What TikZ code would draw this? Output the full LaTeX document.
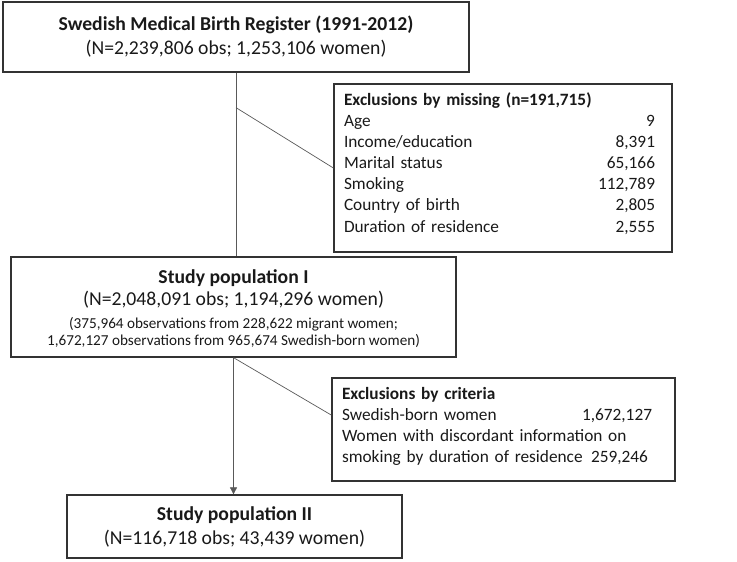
\documentclass[tikz,border=0pt]{standalone}
\usepackage{fontspec}
\setmainfont{Carlito}
\usepackage{xcolor}
\usetikzlibrary{arrows.meta, positioning}

\newcommand{\flowbig}{\fontsize{14}{17}\selectfont}
\newcommand{\flowmid}{\fontsize{12.3}{15}\selectfont}
\newcommand{\flowsmall}{\fontsize{10.8}{11.5}\selectfont}

\begin{document}
\begin{tikzpicture}[
    box/.style={draw=black!80, line width=0.9pt, inner sep=0pt, text=black!90},
    link/.style={draw=black!65, line width=0.5pt},
]
    \useasboundingbox (0,0) rectangle (18.425,14.025);

    % 出生登记
    \node[box, align=center, font=\flowbig, minimum width=11.65cm, minimum height=1.75cm] (reg) at (5.9,13.1)
        {\textbf{Swedish Medical Birth Register (1991-2012)}\\(N=2,239,806 obs; 1,253,106 women)};

    % 缺失排除
    \node[box, align=left, font=\flowmid, text width=7.95cm, minimum width=8.45cm, minimum height=4.2cm] (miss) at (12.575,9.825)
        {\textbf{Exclusions by missing (n=191,715)}\\
         Age\hfill 9\rule{0.175cm}{0pt}\\
         Income/education\hfill 8,391\rule{0.175cm}{0pt}\\
         Marital status\hfill 65,166\rule{0.175cm}{0pt}\\
         Smoking\hfill 112,789\rule{0.175cm}{0pt}\\
         Country of birth\hfill 2,805\rule{0.175cm}{0pt}\\
         Duration of residence\hfill 2,555\rule{0.175cm}{0pt}\rule[-8pt]{0pt}{8pt}};

    % 研究人群 I
    \node[box, align=center, minimum width=11.125cm, minimum height=2.5cm] (pop1) at (5.8375,6.35)
        {{\flowbig\textbf{Study population I}\rule{0pt}{12pt}}\\[2.5pt]
         {\flowbig(N=2,048,091 obs; 1,194,296 women)}\\[4.5pt]
         {\flowsmall(375,964 observations from 228,622 migrant women;}\\
         {\flowsmall 1,672,127 observations from 965,674 Swedish-born women)}};

    % 标准排除
    \node[box, align=left, font=\flowmid, text width=8.075cm, minimum width=8.575cm, minimum height=2.575cm] (crit) at (12.5875,3.2875)
        {\textbf{Exclusions by criteria}\\
         Swedish-born women\hfill 1,672,127\rule{0.325cm}{0pt}\\
         Women with discordant information on\\
         smoking by duration of residence\hfill 259,246\rule{0.425cm}{0pt}\rule[-6pt]{0pt}{6pt}};

    % 研究人群 II
    \node[box, align=center, font=\flowbig, minimum width=8.375cm, minimum height=1.575cm] (pop2) at (5.8625,0.8625)
        {\textbf{Study population II}\\(N=116,718 obs; 43,439 women)};

    % 连线
    \coordinate (m1) at ([yshift=-0.875cm]reg.south);
    \draw[link] (reg.south) -- (reg.south |- pop1.north);
    \draw[link] (m1) -- (miss.west);
    \draw[link, -{Triangle[length=5pt, width=5pt]}] (pop1.south) -- (pop1.south |- pop2.north);
    \draw[link] (pop1.south) -- ([yshift=0.36cm]crit.west);
\end{tikzpicture}
\end{document}
